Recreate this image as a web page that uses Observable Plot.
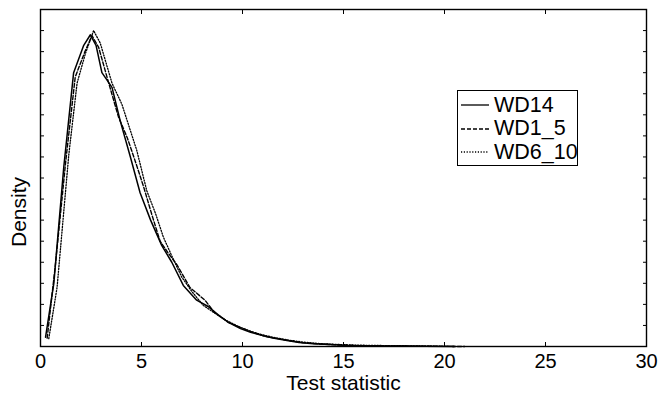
<!DOCTYPE html>
<html>
<head>
<meta charset="utf-8">
<script src="https://cdn.jsdelivr.net/npm/d3@7"></script>
<script src="https://cdn.jsdelivr.net/npm/@observablehq/plot@0.6"></script>
<style>
  html, body { margin: 0; padding: 0; background: #fff; }
  #wrap { position: relative; width: 658px; height: 397px; font-family: "Liberation Sans", Arial, Helvetica, sans-serif; }
  #legend { position: absolute; left: 457px; top: 90px; width: 121px; height: 76px; border: 1px solid #000; background: #fff; box-sizing: border-box; }
  .row { position: absolute; left: 0; height: 24px; display: flex; align-items: center; font-size: 21.5px; color: #000; }
  .row svg { margin-left: 3px; margin-right: 5px; }
</style>
</head>
<body>
<div id="wrap"></div>
<script>
// Series names
const seriesNames = ["WD14", "WD1_5", "WD6_10"];

// WD14 (solid)
const wd14X = [0.25,0.66,1.15,1.64,2.14,2.47,2.75,3.04,3.54,3.95,4.45,4.93,5.45,6.0,6.5,7.07,7.73,8.3,8.8,9.3,9.9,10.4,11.0,11.5,12.2,12.8,13.5,14.3,15.2,16.2,17.5,19.0,20.5];
const wd14Y = [0.0044,0.030,0.085,0.130,0.143,0.148,0.143,0.130,0.123,0.107,0.090,0.073,0.060,0.048,0.040,0.029,0.022,0.019,0.015,0.0115,0.0085,0.0068,0.0052,0.0040,0.0028,0.0019,0.0013,0.0009,0.0005,0.0003,0.0002,0.0001,0];

// WD1_5 (dashed)
const wd15X = [0.33,0.74,1.25,1.72,2.2,2.55,2.88,3.29,3.86,4.3,4.69,5.1,5.5,5.92,6.35,6.74,7.4,8.14,8.63,9.29,9.9,10.5,11.1,11.7,12.3,13.0,13.8,14.7,15.7,16.8,18.2,19.5,21.0];
const wd15Y = [0.004,0.039,0.088,0.128,0.140,0.1476,0.142,0.128,0.109,0.099,0.088,0.076,0.063,0.050,0.044,0.039,0.028,0.022,0.016,0.0115,0.009,0.0068,0.0048,0.0038,0.0028,0.0018,0.0012,0.0008,0.0004,0.0003,0.0002,0.0001,0];

// WD6_10 (dotted)
const wd610X = [0.41,0.82,1.4,1.81,2.22,2.63,2.96,3.54,4.03,4.77,5.26,5.7,6.08,6.5,6.99,7.5,8.06,8.6,9.21,9.8,10.4,11.0,11.6,12.3,13.0,13.8,14.6,15.5,16.5,17.5,18.6,19.5,20.5];
const wd610Y = [0.0037,0.028,0.091,0.125,0.139,0.150,0.144,0.125,0.115,0.093,0.074,0.063,0.052,0.043,0.033,0.026,0.0195,0.016,0.0123,0.0095,0.0072,0.0055,0.0042,0.0030,0.0021,0.0014,0.0010,0.0007,0.0005,0.0004,0.0003,0.0001,0];

// Axis ticks and labels
const xTicks = [0, 5, 10, 15, 20, 25, 30];
const yTicks = [0.01,0.02,0.03,0.04,0.05,0.06,0.07,0.08,0.09,0.10,0.11,0.12,0.13,0.14,0.15];
const xTitle = "Test statistic";
const yTitle = "Density";

const toRows = (xs, ys) => xs.map((x, i) => ({x, y: ys[i]}));
const d14 = toRows(wd14X, wd14Y);
const d15 = toRows(wd15X, wd15Y);
const d610 = toRows(wd610X, wd610Y);

const chart = Plot.plot({
  width: 658,
  height: 397,
  marginLeft: 40,
  marginRight: 12,
  marginTop: 9,
  marginBottom: 51,
  style: {fontFamily: '"Liberation Sans", Arial, Helvetica, sans-serif', fontSize: "20px", color: "#000", background: "#fff"},
  x: {domain: [0, 30]},
  y: {domain: [0, 0.16]},
  marks: [
    Plot.frame({stroke: "#000", strokeWidth: 1.4}),
    Plot.line(d610, {x: "x", y: "y", stroke: "#000", strokeWidth: 1.3, strokeDasharray: "1.2,1.6"}),
    Plot.line(d15, {x: "x", y: "y", stroke: "#000", strokeWidth: 1.4, strokeDasharray: "4,2"}),
    Plot.line(d14, {x: "x", y: "y", stroke: "#000", strokeWidth: 1.5}),
    Plot.axisX({anchor: "bottom", ticks: xTicks, tickSize: -4, tickFormat: () => "", label: null}),
    Plot.axisX({anchor: "top", ticks: xTicks, tickSize: -4, tickFormat: () => "", label: null}),
    Plot.axisX({anchor: "bottom", ticks: xTicks, tickSize: 0, tickPadding: 7, fontSize: 20, label: null}),
    Plot.axisY({anchor: "left", ticks: yTicks, tickSize: -4, tickFormat: () => "", label: null}),
    Plot.axisY({anchor: "right", ticks: yTicks, tickSize: -4, tickFormat: () => "", label: null}),
    Plot.text([xTitle], {text: d => d, frameAnchor: "bottom", dy: 37, lineAnchor: "middle", textAnchor: "middle", fontSize: 21, fill: "#000"}),
    Plot.text([yTitle], {text: d => d, frameAnchor: "left", dx: -21, dy: 34, rotate: -90, lineAnchor: "middle", textAnchor: "middle", fontSize: 21, fill: "#000"})
  ]
});

const wrap = document.getElementById("wrap");
wrap.appendChild(chart);

// Legend
const legend = document.createElement("div");
legend.id = "legend";
const dashes = [null, "4,2", "1.2,1.6"];
seriesNames.forEach((name, i) => {
  const row = document.createElement("div");
  row.className = "row";
  row.style.top = (2 + i * 23.5) + "px";
  row.innerHTML = `<svg width="28" height="10"><line x1="0" x2="28" y1="5" y2="5" stroke="#000" stroke-width="1.3" ${dashes[i] ? `stroke-dasharray="${dashes[i]}"` : ""}/></svg><span>${name}</span>`;
  legend.appendChild(row);
});
wrap.appendChild(legend);
</script>
</body>
</html>
